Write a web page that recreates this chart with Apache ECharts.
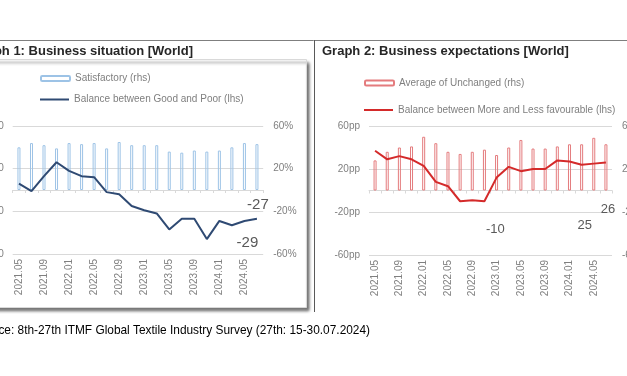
<!DOCTYPE html>
<html>
<head>
<meta charset="utf-8">
<script src="https://cdn.jsdelivr.net/npm/echarts@6/dist/echarts.min.js"></script>
<style>
  html, body { margin: 0; padding: 0; background: #fff; }
  #main { width: 627px; height: 376px; }
</style>
</head>
<body>
<div id="main"></div>
<script>
// survey waves 8th-27th
var categories = ['2021.05', '2021.07', '2021.09', '2021.11', '2022.01', '2022.03', '2022.05', '2022.07', '2022.09', '2022.11',
                  '2023.01', '2023.03', '2023.05', '2023.07', '2023.09', '2023.11', '2024.01', '2024.03', '2024.05', '2024.07'];

// Graph 1: business situation
var satisfactory = [40, 44, 42, 39, 44, 43, 44, 39, 45, 42, 42, 42, 36, 35, 37, 36, 37, 40, 44, 43];
var balanceGoodPoor = [6, -1, 13, 26, 18, 13, 12, -2, -4, -15, -19, -22, -37, -27, -27, -46, -29, -33, -29, -27];

// Graph 2: business expectations
var unchanged = [28, 36, 40, 41, 50, 44, 36, 34, 36, 38, 33, 40, 47, 39, 39, 41, 43, 43, 49, 43];
var balanceMoreLess = [37, 29, 32, 29, 23, 8, 4, -10, -9, -10, 12, 22, 18, 20, 20, 28, 27, 24, 25, 26];

var yTicks = [-60, 60, 40]; // min, max, interval

var myChart = echarts.init(document.getElementById('main'), null, { renderer: 'canvas' });

var axisFont = { fontFamily: 'Liberation Sans', fontSize: 10, color: '#7f7f7f' };

function labelled(values, marks) {
    return values.map(function (v, i) {
        if (marks[i]) {
            return { value: v, label: Object.assign({ show: true, fontFamily: 'Liberation Sans', color: '#595959' }, marks[i]) };
        }
        return v;
    });
}

function xAxes(gridIndex) {
    return [
        {   // labels sit under the plot (low position)
            type: 'category', gridIndex: gridIndex, data: categories, position: 'bottom',
            axisLine: { show: false, onZero: false },
            axisTick: { show: false },
            axisLabel: Object.assign({ rotate: 90, interval: 1, margin: 5 }, axisFont)
        },
        {   // axis line with ticks at zero
            type: 'category', gridIndex: gridIndex, data: categories, position: 'top',
            axisLine: { show: true, onZero: true, lineStyle: { color: '#d9d9d9', width: 1 } },
            axisTick: { show: true, inside: true, length: 3, interval: 0, lineStyle: { color: '#d9d9d9' } },
            axisLabel: { show: false }
        }
    ];
}

function yAxis(gridIndex, fmt, side, grid) {
    return {
        type: 'value', gridIndex: gridIndex, position: side,
        min: yTicks[0], max: yTicks[1], interval: yTicks[2],
        axisLine: { show: false }, axisTick: { show: false },
        splitLine: { show: grid, lineStyle: { color: '#d9d9d9', width: 1 } },
        axisLabel: Object.assign({ formatter: fmt, margin: side === 'left' ? 9 : 10 }, axisFont)
    };
}

function legendAt(name, left, top, isLine, color) {
    var item = { name: name };
    if (isLine) {
        item.icon = 'rect';
        item.itemStyle = { color: color, borderWidth: 0 };
    }
    return {
        data: [item], left: left, top: top, padding: 0,
        itemWidth: 29, itemHeight: isLine ? 2 : 5, itemGap: 0,
        textStyle: { fontFamily: 'Liberation Sans', fontSize: 10, color: '#7f7f7f' },
        selectedMode: false
    };
}

myChart.setOption({
    animation: false,
    backgroundColor: '#fff',
    graphic: [
        { type: 'rect', z: -10, shape: { x: -10, y: 59.5, width: 316.5, height: 248 },
          style: { fill: '#fff', stroke: '#d9d9d9', lineWidth: 1,
                   shadowColor: 'rgba(0,0,0,0.55)', shadowBlur: 3, shadowOffsetX: 2, shadowOffsetY: 3 } },
        { type: 'line', z: -5, shape: { x1: 0, y1: 40.5, x2: 627, y2: 40.5 }, style: { stroke: '#7f7f7f', lineWidth: 1 } },
        { type: 'line', z: -5, shape: { x1: 314.5, y1: 40, x2: 314.5, y2: 312 }, style: { stroke: '#595959', lineWidth: 1 } },
        { type: 'text', x: 193, y: 51,
          style: { text: 'Graph 1: Business situation [World]', align: 'right', verticalAlign: 'middle',
                   font: 'bold 13px "Liberation Sans"', fill: '#262626' } },
        { type: 'text', x: 322, y: 51,
          style: { text: 'Graph 2: Business expectations [World]', align: 'left', verticalAlign: 'middle',
                   font: 'bold 13px "Liberation Sans"', fill: '#262626' } },
        { type: 'text', x: 370, y: 331,
          style: { text: 'Source: 8th-27th ITMF Global Textile Industry Survey (27th: 15-30.07.2024)', align: 'right',
                   verticalAlign: 'middle', font: '11.88px "Liberation Sans"', fill: '#000' } }
    ],
    legend: [
        legendAt('Satisfactory (rhs)', 40, 73.5, false),
        legendAt('Balance between Good and Poor (lhs)', 40, 94.5, true, '#2f4a73'),
        legendAt('Average of Unchanged (rhs)', 364, 78, false),
        legendAt('Balance between More and Less favourable (lhs)', 364, 105, true, '#d42a2a')
    ],
    grid: [
        { left: 12.7, width: 250.5, top: 126, height: 128, outerBoundsMode: 'none' },
        { left: 369, width: 243, top: 126, height: 129, outerBoundsMode: 'none' }
    ],
    xAxis: xAxes(0).concat(xAxes(1)),
    yAxis: [
        yAxis(0, '{value}', 'left', true),
        yAxis(0, '{value}%', 'right', false),
        yAxis(1, '{value}pp', 'left', true),
        yAxis(1, '{value}%', 'right', false)
    ],
    series: [
        {
            name: 'Satisfactory (rhs)', type: 'bar', xAxisIndex: 0, yAxisIndex: 1,
            barWidth: 3,
            itemStyle: { color: 'transparent', borderColor: '#9dc3e6', borderWidth: 1 },
            data: satisfactory
        },
        {
            name: 'Balance between Good and Poor (lhs)', type: 'line', xAxisIndex: 0, yAxisIndex: 0,
            symbol: 'circle', symbolSize: 0.01, showSymbol: true, z: 5,
            lineStyle: { color: '#2f4a73', width: 2 },
            itemStyle: { color: '#2f4a73' },
            data: labelled(balanceGoodPoor, {
                18: { position: 'bottom', fontSize: 15, offset: [3, 9] },
                19: { position: 'top', fontSize: 15, offset: [1, -1] }
            })
        },
        {
            name: 'Average of Unchanged (rhs)', type: 'bar', xAxisIndex: 2, yAxisIndex: 3,
            barWidth: 3,
            itemStyle: { color: 'transparent', borderColor: '#e47b7d', borderWidth: 1 },
            data: unchanged
        },
        {
            name: 'Balance between More and Less favourable (lhs)', type: 'line', xAxisIndex: 2, yAxisIndex: 2,
            symbol: 'circle', symbolSize: 0.01, showSymbol: true, z: 5,
            lineStyle: { color: '#d42a2a', width: 2 },
            itemStyle: { color: '#d42a2a' },
            data: labelled(balanceMoreLess, {
                9: { position: 'bottom', fontSize: 13, offset: [11, 17] },
                18: { position: 'bottom', fontSize: 13, offset: [-9, 50] },
                19: { position: 'bottom', fontSize: 13, offset: [2, 35] }
            })
        }
    ]
});
</script>
</body>
</html>
